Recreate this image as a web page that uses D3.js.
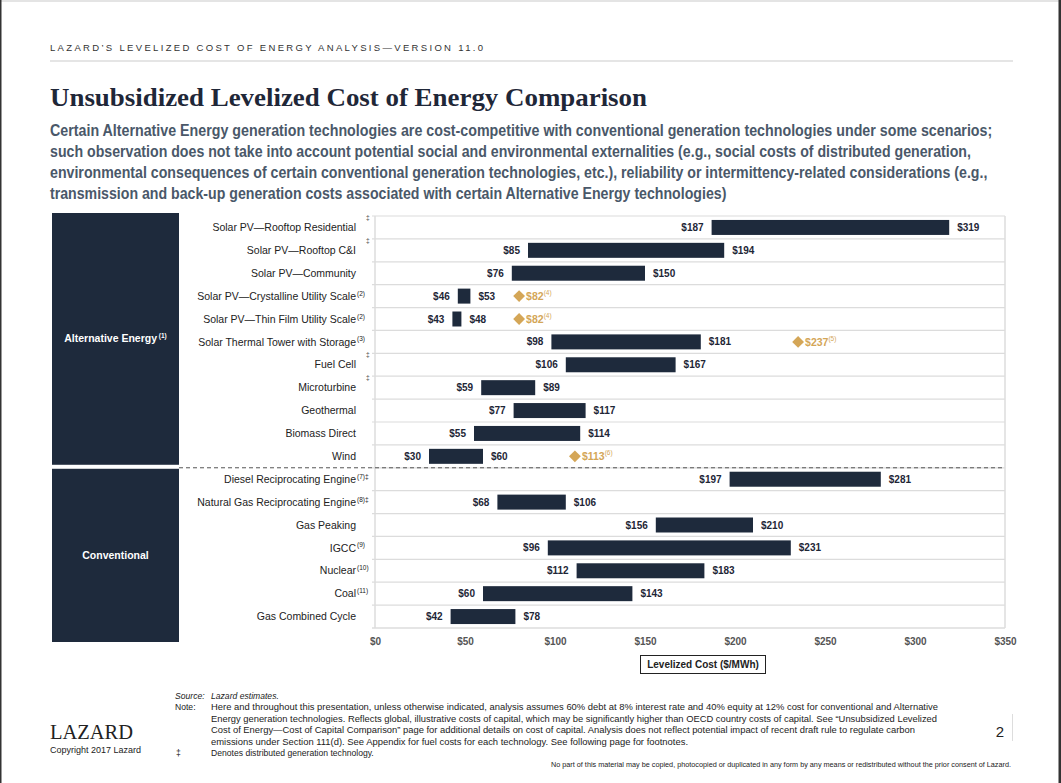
<!DOCTYPE html>
<html><head><meta charset="utf-8">
<script src="https://cdn.jsdelivr.net/npm/d3@7"></script>
<style>
html,body{margin:0;padding:0;background:#fff;}
svg{display:block;font-family:"Liberation Sans",Arial,sans-serif;}
</style></head>
<body><svg id="c" width="1061" height="783"></svg>
<script>
const categories = [
  "Solar PV—Rooftop Residential","Solar PV—Rooftop C&I","Solar PV—Community",
  "Solar PV—Crystalline Utility Scale","Solar PV—Thin Film Utility Scale",
  "Solar Thermal Tower with Storage","Fuel Cell","Microturbine","Geothermal",
  "Biomass Direct","Wind","Diesel Reciprocating Engine","Natural Gas Reciprocating Engine",
  "Gas Peaking","IGCC","Nuclear","Coal","Gas Combined Cycle"];
const lows  = [187,85,76,46,43,98,106,59,77,55,30,197,68,156,96,112,60,42];
const highs = [319,194,150,53,48,181,167,89,117,114,60,281,106,210,231,183,143,78];
const notes = ["","","","(2)","(2)","(3)","","","","","","(7)","(8)","","(9)","(10)","(11)",""];
const distributed = [true,true,false,false,false,false,true,true,false,false,false,true,true,false,false,false,false,false];
const markerRows = ["Solar PV—Crystalline Utility Scale","Solar PV—Thin Film Utility Scale","Solar Thermal Tower with Storage","Wind"];
const markerValues = [82,82,237,113];
const markerNotes = ["(4)","(4)","(5)","(6)"];
const groupNames = ["Alternative Energy","Conventional"];
const groupNotes = ["(1)",""];
const groupFirst = ["Solar PV—Rooftop Residential","Diesel Reciprocating Engine"];
const groupLast = ["Wind","Gas Combined Cycle"];
const ticks = [0,50,100,150,200,250,300,350];

const subtitleLines = [
 "Certain Alternative Energy generation technologies are cost-competitive with conventional generation technologies under some scenarios;",
 "such observation does not take into account potential social and environmental externalities (e.g., social costs of distributed generation,",
 "environmental consequences of certain conventional generation technologies, etc.), reliability or intermittency-related considerations (e.g.,",
 "transmission and back-up generation costs associated with certain Alternative Energy technologies)"];
const subtitleWidths = [943,921,938,677];
const noteLines = [
 "Here and throughout this presentation, unless otherwise indicated, analysis assumes 60% debt at 8% interest rate and 40% equity at 12% cost for conventional and Alternative",
 "Energy generation technologies. Reflects global, illustrative costs of capital, which may be significantly higher than OECD country costs of capital. See \u201cUnsubsidized Levelized",
 "Cost of Energy\u2014Cost of Capital Comparison\u201d page for additional details on cost of capital. Analysis does not reflect potential impact of recent draft rule to regulate carbon",
 "emissions under Section 111(d). See Appendix for fuel costs for each technology. See following page for footnotes."];
const noteWidths = [727,726,704,477];

const NAVY = "#1e2a3c", GOLD = "#d4a657", GRID = "#dcdcdc";
const svg = d3.select("#c");

// page frame
svg.append("rect").attr("x",0).attr("y",0).attr("width",1061).attr("height",2).attr("fill","#e4e4e4");
svg.append("rect").attr("x",0).attr("y",0).attr("width",1.5).attr("height",783).attr("fill","#333");
svg.append("rect").attr("x",1058.5).attr("y",0).attr("width",2.5).attr("height",783).attr("fill","#333");

// header
svg.append("text").attr("x",50).attr("y",51).attr("font-size",9.5).attr("fill","#333")
  .attr("textLength",433).attr("lengthAdjust","spacing")
  .text("LAZARD\u2019S LEVELIZED COST OF ENERGY ANALYSIS\u2014VERSION 11.0");
svg.append("line").attr("x1",50).attr("x2",1013).attr("y1",61).attr("y2",61).attr("stroke","#dcdcdc").attr("stroke-width",1.5);

svg.append("text").attr("x",50).attr("y",106).attr("font-family","'Liberation Serif','Times New Roman',serif")
  .attr("font-weight","bold").attr("font-size",25).attr("fill","#1f2738")
  .attr("textLength",597).attr("lengthAdjust","spacingAndGlyphs")
  .text("Unsubsidized Levelized Cost of Energy Comparison");

// subtitle: horizontally condensed via scale transform to match reference widths
subtitleLines.forEach((t,i)=>{
  const g = svg.append("g");
  const tx = g.append("text").attr("x",0).attr("y",0)
    .attr("font-weight","bold").attr("font-size",16).attr("fill","#4a5869").text(t);
  const w = tx.node().getComputedTextLength();
  g.attr("transform",`translate(50,${136+i*21}) scale(${subtitleWidths[i]/w},1)`);
});

// scales
const x = d3.scaleLinear().domain([0,350]).range([375,1005]);
const y = d3.scaleBand().domain(categories).range([216,628]).paddingInner(0.345).paddingOuter(0.1725);
const step = y.step();
const rowTop = c => y(c) - step*y.paddingOuter();
const rowMid = c => y(c) + y.bandwidth()/2;

// left group panels
groupNames.forEach((g,i)=>{
  const top = i===0 ? rowTop(groupFirst[i]) - 3 : rowTop(groupFirst[i]) + 1;
  const bot = i===0 ? rowTop(groupLast[i]) + step - 3 : rowTop(groupLast[i]) + step + 14;
  svg.append("rect").attr("x",52).attr("y",top).attr("width",127).attr("height",bot-top).attr("fill",NAVY);
  const t = svg.append("text").attr("x",115.5).attr("y",(top+bot)/2+3.5).attr("text-anchor","middle")
    .attr("fill","#fff").attr("font-weight","bold").attr("font-size",10.5);
  t.append("tspan").text(g);
  if (groupNotes[i]) t.append("tspan").attr("dy",-4).attr("font-size",6.5).text(" "+groupNotes[i]);
});

// grid
const plot = svg.append("g");
categories.forEach(c=>{
  plot.append("line").attr("x1",372).attr("x2",1005).attr("y1",rowTop(c)).attr("y2",rowTop(c)).attr("stroke",GRID).attr("stroke-width",1.2);
});
plot.append("line").attr("x1",372).attr("x2",1005).attr("y1",rowTop(categories[17])+step).attr("y2",rowTop(categories[17])+step).attr("stroke",GRID).attr("stroke-width",1.5);
plot.append("line").attr("x1",x(0)).attr("x2",x(0)).attr("y1",216).attr("y2",628).attr("stroke",GRID).attr("stroke-width",1.5);
plot.append("line").attr("x1",x(350)).attr("x2",x(350)).attr("y1",216).attr("y2",628).attr("stroke",GRID).attr("stroke-width",1.5);

// dashed separator
const sepY = rowTop("Diesel Reciprocating Engine");
svg.append("line").attr("x1",179).attr("x2",1005).attr("y1",sepY).attr("y2",sepY)
  .attr("stroke","#555").attr("stroke-width",1).attr("stroke-dasharray","4,3");

// category labels
categories.forEach((c,i)=>{
  svg.append("text").attr("x",356).attr("y",rowMid(c)+3.7).attr("text-anchor","end")
    .attr("font-size",10.5).attr("fill","#222").text(c);
  if (notes[i]) {
    svg.append("text").attr("x",357).attr("y",rowMid(c)-0.5).attr("font-size",6.5).attr("fill","#222")
      .text(notes[i] + (distributed[i] ? "\u2021" : ""));
  } else if (distributed[i]) {
    svg.append("text").attr("x",366).attr("y",rowTop(c)+4).attr("font-size",6.5).attr("fill","#444").text("\u2021");
  }
});

// bars
categories.forEach((c,i)=>{
  svg.append("rect").attr("x",x(lows[i])).attr("y",y(c)).attr("width",x(highs[i])-x(lows[i]))
    .attr("height",y.bandwidth()).attr("fill",NAVY);
  svg.append("text").attr("x",x(lows[i])-8).attr("y",rowMid(c)+3.5).attr("text-anchor","end")
    .attr("font-size",10).attr("font-weight","bold").attr("fill","#1e2636").text("$"+lows[i]);
  svg.append("text").attr("x",x(highs[i])+8).attr("y",rowMid(c)+3.5)
    .attr("font-size",10).attr("font-weight","bold").attr("fill","#1e2636").text("$"+highs[i]);
});

// diamonds
const diamond = d3.symbol().type(d3.symbolSquare).size(70);
markerRows.forEach((r,i)=>{
  const cx = x(markerValues[i]) - 3.5, cy = rowMid(r);
  svg.append("path").attr("d",diamond()).attr("transform",`translate(${cx},${cy}) rotate(45)`).attr("fill",GOLD);
  const t = svg.append("text").attr("x",cx+7).attr("y",cy+4).attr("fill",GOLD);
  t.append("tspan").attr("font-size",10.5).attr("font-weight","bold").text("$"+markerValues[i]);
  t.append("tspan").attr("font-size",6.5).attr("dy",-5).text(markerNotes[i]);
});

// x axis
const ax = svg.append("g").attr("transform","translate(0,635)")
  .call(d3.axisBottom(x).tickValues(ticks).tickFormat(d=>"$"+d).tickSize(0).tickPadding(2.5));
ax.select(".domain").remove();
ax.selectAll("text").attr("font-family","'Liberation Sans',Arial,sans-serif").attr("font-size",10)
  .attr("font-weight","bold").attr("fill","#555");

// axis title box
svg.append("rect").attr("x",640.5).attr("y",655.5).attr("width",125).attr("height",18).attr("fill","#fff").attr("stroke","#222").attr("stroke-width",1);
svg.append("text").attr("x",703).attr("y",668).attr("text-anchor","middle").attr("font-size",10).attr("font-weight","bold").attr("fill","#222").text("Levelized Cost ($/MWh)");

// footnotes
const fn = svg.append("g").attr("font-size",8.6).attr("fill","#222");
fn.append("text").attr("x",175).attr("y",698.5).attr("font-style","italic").text("Source:");
fn.append("text").attr("x",211).attr("y",698.5).attr("font-style","italic").text("Lazard estimates.");
fn.append("text").attr("x",175).attr("y",710).text("Note:");
noteLines.forEach((t,i)=>{
  fn.append("text").attr("x",211).attr("y",710+i*11.5).attr("textLength",noteWidths[i]).attr("lengthAdjust","spacingAndGlyphs").text(t);
});
fn.append("text").attr("x",176).attr("y",756).text("\u2021");
fn.append("text").attr("x",211).attr("y",756).text("Denotes distributed generation technology.");

// logo
svg.append("text").attr("x",50).attr("y",739).attr("font-family","'Liberation Serif','Times New Roman',serif")
  .attr("font-size",22).attr("fill","#222").attr("textLength",83).attr("lengthAdjust","spacingAndGlyphs").text("LAZARD");
svg.append("text").attr("x",50).attr("y",753).attr("font-size",9).attr("fill","#222").text("Copyright 2017 Lazard");

// page number
svg.append("text").attr("x",1000).attr("y",737).attr("text-anchor","middle").attr("font-size",15).attr("fill","#222").text("2");
svg.append("line").attr("x1",1012.5).attr("x2",1012.5).attr("y1",714).attr("y2",741).attr("stroke","#ddd").attr("stroke-width",1);

svg.append("text").attr("x",551).attr("y",767).attr("font-size",6.5).attr("fill","#222")
  .attr("textLength",460).attr("lengthAdjust","spacingAndGlyphs")
  .text("No part of this material may be copied, photocopied or duplicated in any form by any means or redistributed without the prior consent of Lazard.");
</script></body></html>
